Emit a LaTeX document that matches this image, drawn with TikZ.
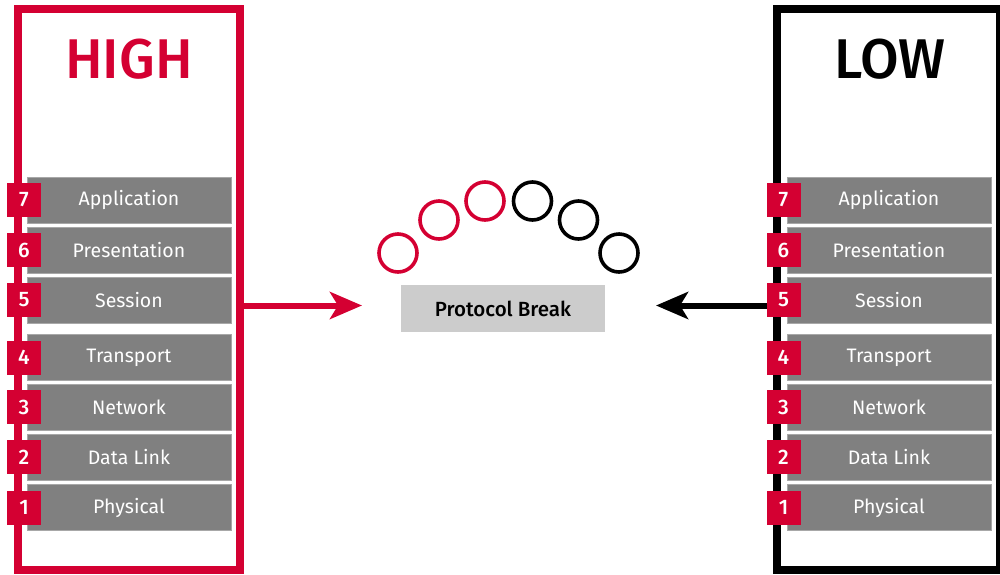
\documentclass[tikz,border=0pt]{standalone}
\usepackage{fontspec}
\setmainfont{Fira Sans}
\newfontfamily\medfont{Fira Sans Medium}
\usetikzlibrary{arrows.meta}
\definecolor{hired}{HTML}{D40032}
\definecolor{bargray}{HTML}{808080}
\definecolor{baredge}{HTML}{A8A8A8}
\definecolor{pbgray}{HTML}{CCCCCC}
\tikzset{
  frame/.style={draw, line width=8pt, minimum width=222pt, minimum height=561pt, inner sep=0pt},
  layer/.style={fill=bargray, draw=baredge, line width=0.8pt, minimum width=204pt, minimum height=46pt, inner sep=0pt, text=white, font=\fontsize{19.5}{19.5}\selectfont},
  num/.style={fill=hired, minimum width=34pt, minimum height=34pt, inner sep=0pt, text=white, font=\medfont\fontsize{21}{21}\selectfont},
  ring/.style={draw, line width=3.6pt, circle, minimum size=38pt, inner sep=0pt},
  title/.style={font=\medfont\fontsize{56}{56}\selectfont},
  link/.style={line width=6pt, -{Stealth[length=32pt,width=27pt,inset=8pt]}}
}
\begin{document}
\begin{tikzpicture}[x=1pt,y=-1pt]
\useasboundingbox (0,0) rectangle (1000,574);
\clip (0,0) rectangle (1000,574);
% frames
\node[frame, draw=hired] (hiframe) at (129,289.5) {};
\node[frame, draw=black, minimum width=223pt] (loframe) at (888.5,289.5) {};
\node[title, text=hired] (hi) at (129,59) {HIGH};
\node[title, text=black] (lo) at (890,59) {LOW};
% arrows
\coordinate (redtip) at (362,305.5);
\coordinate (blacktip) at (656,305.5);
\draw[link, hired] (hiframe.east |- redtip) -- (redtip);
\draw[link, black] (loframe.west |- blacktip) -- (blacktip);
% layers
\foreach \n/\lab/\y in {7/Application/200,6/Presentation/250,5/Session/300,4/Transport/357.5,3/Network/407,2/Data Link/457,1/Physical/507.5}{
  \node[layer] (hl\n) at (129,\y) {\lab};
  \node[num] (hn\n) at (24,\y) {\n};
  \node[layer] (ll\n) at (889,\y) {\lab};
  \node[num] (ln\n) at (783.5,\y) {\n};
}
% protocol break
\node[fill=pbgray, minimum width=204pt, minimum height=47pt, inner sep=0pt, font=\medfont\fontsize{20.5}{20.5}\selectfont] (pb) at (503,308.5) {Protocol Break};
\node[ring, draw=hired] (c1) at (398,253) {};
\node[ring, draw=hired] (c2) at (439,220) {};
\node[ring, draw=hired] (c3) at (485,201) {};
\node[ring, draw=black] (c4) at (532.5,201) {};
\node[ring, draw=black] (c5) at (578.5,220) {};
\node[ring, draw=black] (c6) at (619,253) {};
\end{tikzpicture}
\end{document}
